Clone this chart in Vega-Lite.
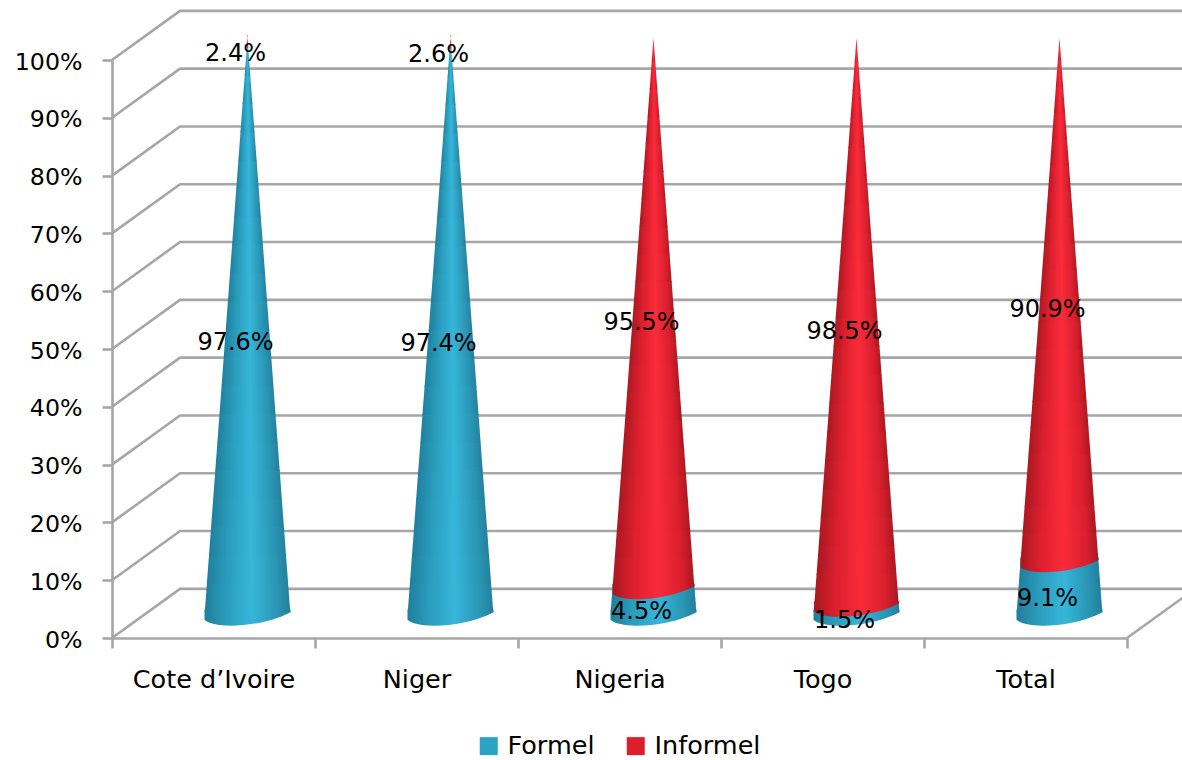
{
"$schema":"https://vega.github.io/schema/vega-lite/v6.json",
"width":1015,"height":578,
"autosize":{"type":"none"},
"padding":{"left":112,"top":60,"right":55,"bottom":122},
"background":"white",
"config":{"view":{"stroke":null},"font":"DejaVu Sans"},
"datasets":{
"grid":[{"level":10},{"level":20},{"level":30},{"level":40},{"level":50},{"level":60},{"level":70},{"level":80},{"level":90},{"level":100},{"level":0}],
"floor":[{"px":5,"py":0},{"px":5.335,"py":8.5}],
"shares":[
{"country":"Cote d’Ivoire","pos":0,"series":"Formel","value":97.6},
{"country":"Cote d’Ivoire","pos":0,"series":"Informel","value":2.4},
{"country":"Niger","pos":1,"series":"Formel","value":97.4},
{"country":"Niger","pos":1,"series":"Informel","value":2.6},
{"country":"Nigeria","pos":2,"series":"Formel","value":4.5},
{"country":"Nigeria","pos":2,"series":"Informel","value":95.5},
{"country":"Togo","pos":3,"series":"Formel","value":1.5},
{"country":"Togo","pos":3,"series":"Informel","value":98.5},
{"country":"Total","pos":4,"series":"Formel","value":9.1},
{"country":"Total","pos":4,"series":"Informel","value":90.9}
]},
"data":{"name":"shares"},
"transform":[
{"stack":"value","groupby":["country"],"sort":[{"field":"series","order":"ascending"}],"as":["y0","y1"]},
{"calculate":"datum.pos+0.5","as":"cx"},
{"calculate":"pow(86*(1-datum.y0/100),2)","as":"sz"},
{"calculate":"(datum.y0+datum.y1)/2","as":"mid"},
{"calculate":"format(datum.value,'.1f')+'%'","as":"lab"}
],
"layer":[
{"data":{"name":"grid"},
 "transform":[{"calculate":"[0,0.335,5.335]","as":"px"},{"flatten":["px"]},{"calculate":"datum.px>0?datum.level+8.5:datum.level","as":"py"}],
 "mark":{"type":"line","color":"#a6a6a6","strokeWidth":2.6,"clip":false},
 "encoding":{
  "x":{"field":"px","type":"quantitative","scale":{"domain":[0,5],"nice":false,"zero":false},
   "axis":{"title":null,"values":[0,0.5,1,1.5,2,2.5,3,3.5,4,4.5,5],"grid":false,"domainColor":"#a6a6a6","domainWidth":2.6,"tickColor":"#a6a6a6","tickWidth":2.6,"tickSize":10,
    "tickOpacity":{"condition":{"test":"datum.value%1>0","value":0},"value":1},
    "labelExpr":"datum.value%1>0?['Cote d’Ivoire','Niger','Nigeria','Togo','Total'][floor(datum.value)]:''",
    "labelFontSize":25.5,"labelColor":"#000","labelPadding":19,"labelFlush":false,"labelOverlap":false,"labelBound":false}},
  "y":{"field":"py","type":"quantitative","scale":{"domain":[0,100],"nice":false},
   "axis":{"title":null,"values":[0,10,20,30,40,50,60,70,80,90,100],"grid":false,"domainColor":"#a6a6a6","domainWidth":2.6,"tickColor":"#a6a6a6","tickWidth":2.6,"tickSize":10,
    "labelExpr":"datum.value+'%'","labelFontSize":23.7,"labelColor":"#000","labelPadding":20,"labelOffset":2,"labelOverlap":false,"labelBound":false}},
  "detail":{"field":"level"},
  "order":{"field":"px"}
 }},
{"data":{"name":"floor"},
 "mark":{"type":"line","color":"#a6a6a6","strokeWidth":2.6,"clip":false},
 "encoding":{"x":{"field":"px","type":"quantitative"},"y":{"field":"py","type":"quantitative"}}},
{"transform":[{"filter":"datum.series==='Formel'"},
  {"calculate":"[0,0.05,0.1,0.15,0.2,0.25,0.3,0.35,0.4,0.45,0.5,0.55,0.6,0.65,0.7,0.75,0.8,0.85,0.9,0.95]","as":"f"},{"flatten":["f"]},
  {"calculate":"datum.y0+(datum.y1-datum.y0)*datum.f+0.7","as":"s0"},
  {"calculate":"min(100,datum.y0+(datum.y1-datum.y0)*(datum.f+0.05)+0.85)","as":"s1"},
  {"fold":["s0","s1"],"as":["k","lvl"]},{"calculate":"datum.cx-0.212*(1-datum.lvl/100)","as":"xl"},{"calculate":"datum.cx+0.212*(1-datum.lvl/100)","as":"xr"}],
 "mark":{"type":"area","orient":"horizontal","xOffset":34,"x2Offset":34,"yOffset":-22,"clip":false,
  "fill":{"gradient":"linear","x1":0,"y1":0,"x2":1,"y2":0,"stops":[{"offset":0,"color":"#1f7f9c"},{"offset":0.25,"color":"#2a9cbc"},{"offset":0.55,"color":"#36b6da"},{"offset":0.85,"color":"#2a95b4"},{"offset":1,"color":"#22809c"}]}},
 "encoding":{"y":{"field":"lvl","type":"quantitative"},"x":{"field":"xl","type":"quantitative","stack":null},"x2":{"field":"xr"},"detail":[{"field":"country"},{"field":"f"}]}},
{"transform":[{"filter":"datum.series==='Formel'"}],
 "mark":{"type":"point","filled":true,"opacity":1,"stroke":null,"xOffset":34,"yOffset":-22,"clip":false,"shape":"M-1,0.09 C-0.8,0.3 0.3,0.28 1,-0.09 L1,-0.15 L-1,-0.15 Z",
  "fill":{"gradient":"linear","x1":0,"y1":0,"x2":1,"y2":0,"stops":[{"offset":0,"color":"#1f7f9c"},{"offset":0.25,"color":"#2a9cbc"},{"offset":0.55,"color":"#36b6da"},{"offset":0.85,"color":"#2a95b4"},{"offset":1,"color":"#22809c"}]}},
 "encoding":{"x":{"field":"cx","type":"quantitative"},"y":{"field":"y0","type":"quantitative"},"size":{"field":"sz","type":"quantitative","scale":null,"legend":null}}},
{"transform":[{"filter":"datum.series==='Informel'"},
  {"calculate":"[0,0.05,0.1,0.15,0.2,0.25,0.3,0.35,0.4,0.45,0.5,0.55,0.6,0.65,0.7,0.75,0.8,0.85,0.9,0.95]","as":"f"},{"flatten":["f"]},
  {"calculate":"datum.y0+(datum.y1-datum.y0)*datum.f+0.7","as":"s0"},
  {"calculate":"min(100,datum.y0+(datum.y1-datum.y0)*(datum.f+0.05)+0.85)","as":"s1"},
  {"fold":["s0","s1"],"as":["k","lvl"]},{"calculate":"datum.cx-0.212*(1-datum.lvl/100)","as":"xl"},{"calculate":"datum.cx+0.212*(1-datum.lvl/100)","as":"xr"}],
 "mark":{"type":"area","orient":"horizontal","xOffset":34,"x2Offset":34,"yOffset":-22,"clip":false,
  "fill":{"gradient":"linear","x1":0,"y1":0,"x2":1,"y2":0,"stops":[{"offset":0,"color":"#a81820"},{"offset":0.25,"color":"#dc1f2e"},{"offset":0.55,"color":"#fa2b3a"},{"offset":0.85,"color":"#d81f2e"},{"offset":1,"color":"#a81820"}]}},
 "encoding":{"y":{"field":"lvl","type":"quantitative"},"x":{"field":"xl","type":"quantitative","stack":null},"x2":{"field":"xr"},"detail":[{"field":"country"},{"field":"f"}]}},
{"transform":[{"filter":"datum.series==='Informel'"}],
 "mark":{"type":"point","filled":true,"opacity":1,"stroke":null,"xOffset":34,"yOffset":-22,"clip":false,"shape":"M-1,0.09 C-0.8,0.3 0.3,0.28 1,-0.09 L1,-0.15 L-1,-0.15 Z",
  "fill":{"gradient":"linear","x1":0,"y1":0,"x2":1,"y2":0,"stops":[{"offset":0,"color":"#a81820"},{"offset":0.25,"color":"#dc1f2e"},{"offset":0.55,"color":"#fa2b3a"},{"offset":0.85,"color":"#d81f2e"},{"offset":1,"color":"#a81820"}]}},
 "encoding":{"x":{"field":"cx","type":"quantitative"},"y":{"field":"y0","type":"quantitative"},"size":{"field":"sz","type":"quantitative","scale":null,"legend":null}}},
{"mark":{"type":"text","fontSize":24,"color":"#000","dx":22,"dy":-13,"clip":false},
 "encoding":{"x":{"field":"cx","type":"quantitative"},"y":{"field":"mid","type":"quantitative"},"text":{"field":"lab"}}},
{"mark":{"type":"square","opacity":0,"clip":false},
 "encoding":{"x":{"field":"cx","type":"quantitative"},"y":{"field":"mid","type":"quantitative"},
  "color":{"field":"series","type":"nominal","scale":{"domain":["Formel","Informel"],"range":["#2ba3c4","#dc1f2b"]},
   "legend":{"title":null,"orient":"none","legendX":364,"legendY":673,"direction":"horizontal","columns":2,"symbolType":"square","symbolSize":324,"symbolOpacity":1,"symbolStrokeWidth":0,"labelFontSize":25.5,"labelColor":"#000","columnPadding":28,"labelOffset":6}}}}
],
"resolve":{"scale":{"size":"independent"}}
}
